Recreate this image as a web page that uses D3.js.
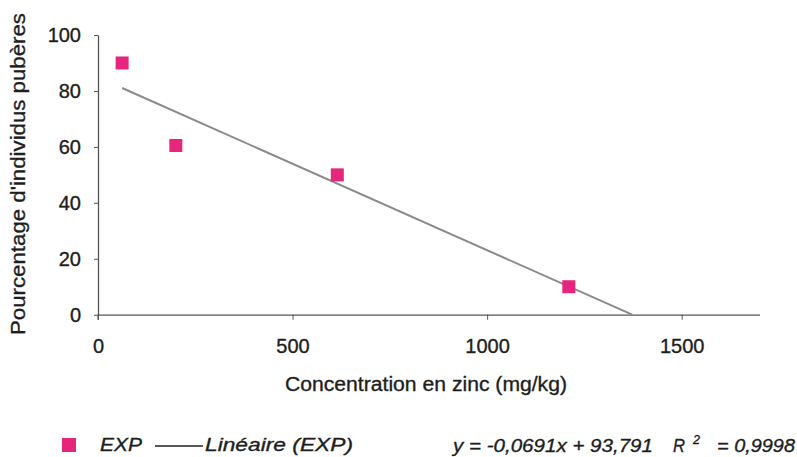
<!DOCTYPE html>
<html><head><meta charset="utf-8">
<script src="https://cdn.jsdelivr.net/npm/d3@7"></script>
<style>
body{margin:0;background:#fff;}
text{font-family:"Liberation Sans",Arial,sans-serif;fill:#1e1e1e;stroke:#1e1e1e;stroke-width:0.35px;}
</style></head>
<body><svg id="c" width="797" height="457"></svg>
<script>
const concentrations = [62, 200, 615, 1210];
const pubescentPct = [90, 60.5, 50, 10];
const xTicks = [0, 500, 1000, 1500];
const yTicks = [0, 20, 40, 60, 80, 100];
const xTitle = "Concentration en zinc (mg/kg)";
const yTitle = "Pourcentage d'individus pubères";
const legendLabels = ["EXP", "Linéaire (EXP)"];
const equationParts = ["y = -0,0691x + 93,791", "R", "2", "= 0,9998"];

const svg = d3.select("#c");
const x = d3.scaleLinear().domain([0, 1700]).range([98, 759.5]);
const y = d3.scaleLinear().domain([0, 100]).range([314.7, 35]);
const axisColor = "#555";
const font = '"Liberation Sans",Arial,sans-serif';

// axes
const gx = svg.append("g").attr("transform", `translate(0,${y(0)})`)
  .call(d3.axisBottom(x).tickValues(xTicks).tickFormat(d3.format("d")).tickSize(5).tickSizeOuter(0).tickPadding(19));
const gy = svg.append("g").attr("transform", `translate(${x(0)},0)`)
  .call(d3.axisLeft(y).tickValues(yTicks).tickFormat(d3.format("d")).tickSize(4).tickSizeOuter(0).tickPadding(13));
[gx, gy].forEach(g => {
  g.select(".domain").attr("stroke", axisColor).attr("stroke-width", 1.3);
  g.selectAll(".tick line").attr("stroke", axisColor);
  g.selectAll(".tick text").attr("font-size", 20).attr("fill", "#1e1e1e").style("font-family", font);
});
// small extension of y axis below x axis
svg.append("line").attr("x1", x(0)).attr("x2", x(0)).attr("y1", y(0)).attr("y2", y(0) + 5)
  .attr("stroke", axisColor).attr("stroke-width", 1.3);

// regression line computed from data
const n = concentrations.length;
const mx = d3.mean(concentrations), my = d3.mean(pubescentPct);
let sxy = 0, sxx = 0;
for (let i = 0; i < n; i++) { sxy += (concentrations[i]-mx)*(pubescentPct[i]-my); sxx += (concentrations[i]-mx)**2; }
const slope = sxy / sxx, intercept = my - slope * mx;
const x0 = d3.min(concentrations), x1 = -intercept / slope;
svg.append("line")
  .attr("x1", x(x0)).attr("y1", y(slope*x0+intercept))
  .attr("x2", x(x1)).attr("y2", y(0))
  .attr("stroke", "#8a8a8a").attr("stroke-width", 2);

// points
const pink = "#e5267c";
const sz = 13;
svg.selectAll("rect.pt").data(concentrations.map((c,i)=>[c,pubescentPct[i]])).enter()
  .append("rect").attr("class","pt")
  .attr("x", d => x(d[0]) - sz/2).attr("y", d => y(d[1]) - sz/2)
  .attr("width", sz).attr("height", sz).attr("fill", pink);

// titles
svg.append("text").attr("x", 285).attr("y", 391)
  .attr("font-size", 20).attr("textLength", 282).attr("lengthAdjust", "spacingAndGlyphs").text(xTitle);
svg.append("text").attr("transform", "translate(25,335) rotate(-90)")
  .attr("font-size", 21).attr("textLength", 322).attr("lengthAdjust", "spacingAndGlyphs").text(yTitle);

// legend
svg.append("rect").attr("x", 62).attr("y", 438).attr("width", 14).attr("height", 14).attr("fill", pink);
svg.append("text").attr("x", 100).attr("y", 451).attr("font-size", 19).attr("font-style","italic")
  .attr("textLength", 42).attr("lengthAdjust", "spacingAndGlyphs").text(legendLabels[0]);
svg.append("line").attr("x1", 155).attr("x2", 203).attr("y1", 446).attr("y2", 446).attr("stroke", "#222").attr("stroke-width", 1.5);
svg.append("text").attr("x", 205).attr("y", 451).attr("font-size", 19).attr("font-style","italic")
  .attr("textLength", 148).attr("lengthAdjust", "spacingAndGlyphs").text(legendLabels[1]);
const eqX = [453, 673, 693, 717], eqL = [200, 12, 7, 78];
equationParts.forEach((t, i) => {
  svg.append("text").attr("x", eqX[i]).attr("y", i === 2 ? 444 : 452)
    .attr("font-size", i === 2 ? 13 : 19).attr("font-style", "italic")
    .attr("textLength", eqL[i]).attr("lengthAdjust", "spacingAndGlyphs").text(t);
});
</script></body></html>
